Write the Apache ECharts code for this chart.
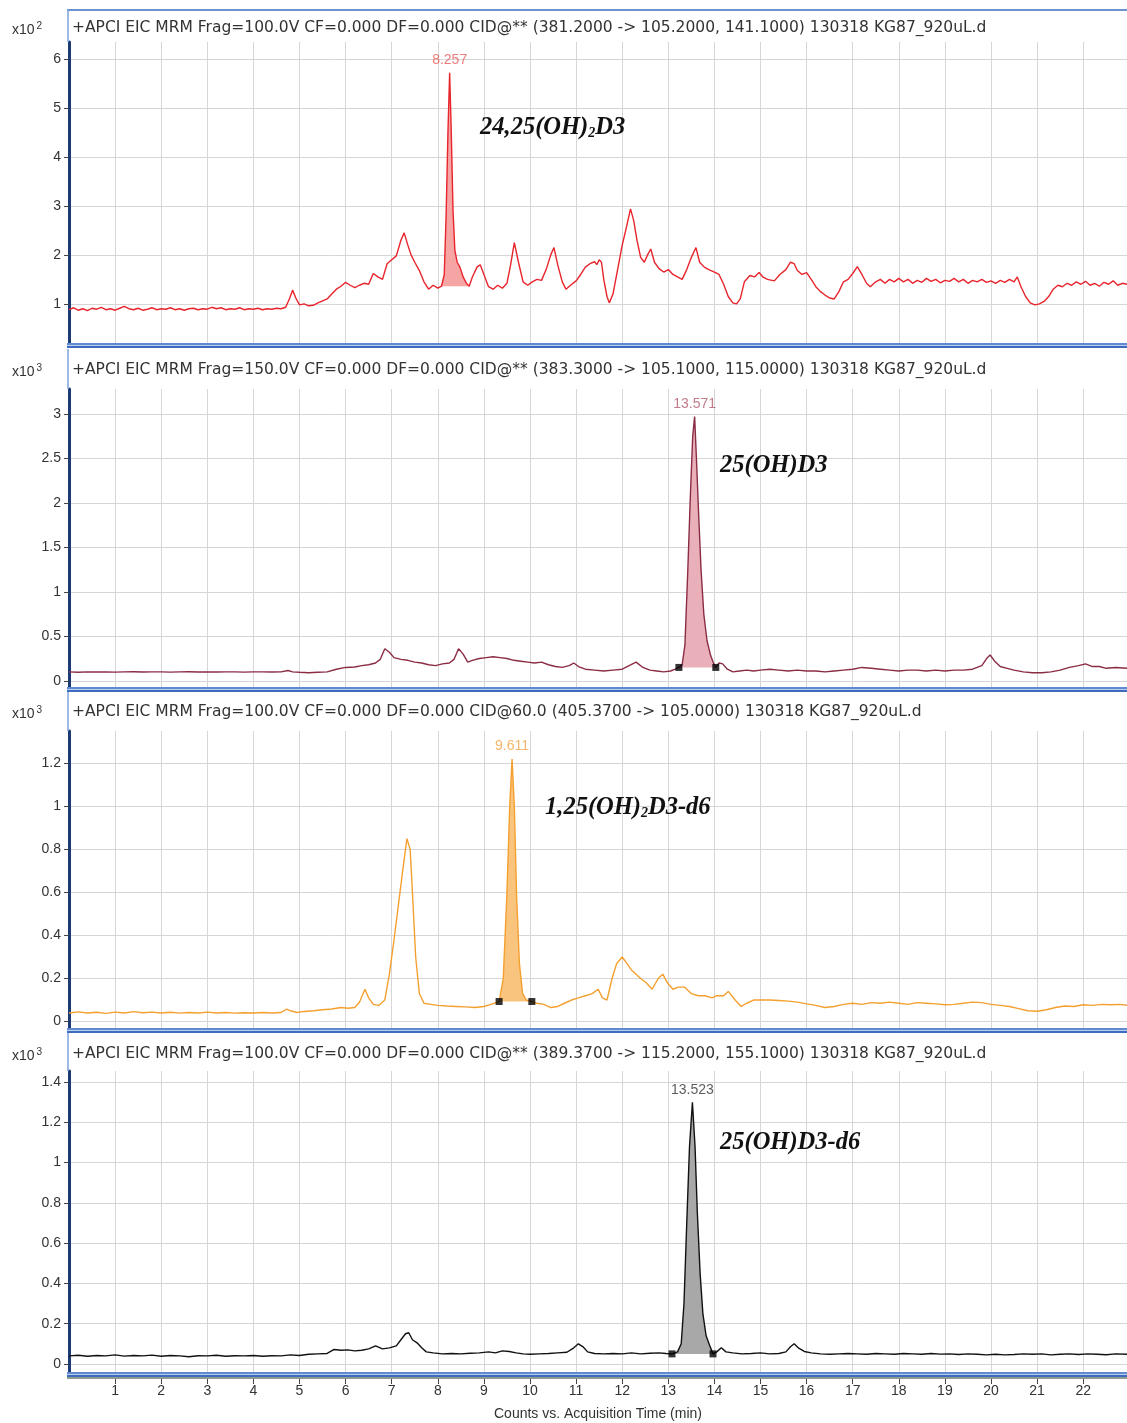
<!DOCTYPE html>
<html><head><meta charset="utf-8">
<script src="https://cdn.jsdelivr.net/npm/echarts@6/dist/echarts.min.js"></script>
<style>html,body{margin:0;padding:0;background:#fff}#c{width:1127px;height:1423px}</style>
</head><body><div id="c"></div><script>
// ---------------- DATA ----------------
const xTickValues = [1,2,3,4,5,6,7,8,9,10,11,12,13,14,15,16,17,18,19,20,21,22];
const xGridValues = [0,1,2,3,4,5,6,7,8,9,10,11,12,13,14,15,16,17,18,19,20,21,22];
const p1YTicks = [1,2,3,4,5,6];
const p2YTicks = [0,0.5,1,1.5,2,2.5,3];
const p3YTicks = [0,0.2,0.4,0.6,0.8,1,1.2];
const p4YTicks = [0,0.2,0.4,0.6,0.8,1,1.2,1.4];
const panelTitles = [
  '+APCI EIC MRM Frag=100.0V CF=0.000 DF=0.000 CID@** (381.2000 -> 105.2000, 141.1000) 130318 KG87_920uL.d',
  '+APCI EIC MRM Frag=150.0V CF=0.000 DF=0.000 CID@** (383.3000 -> 105.1000, 115.0000) 130318 KG87_920uL.d',
  '+APCI EIC MRM Frag=100.0V CF=0.000 DF=0.000 CID@60.0 (405.3700 -> 105.0000) 130318 KG87_920uL.d',
  '+APCI EIC MRM Frag=100.0V CF=0.000 DF=0.000 CID@** (389.3700 -> 115.2000, 155.1000) 130318 KG87_920uL.d'
];
const panelExponents = ['2','3','3','3'];
const xAxisTitle = 'Counts vs. Acquisition Time (min)';

// trace 1 (x10^2 counts): [time, counts]
const p1Trace = [
[0,0.88],[0.1,0.92],[0.2,0.87],[0.3,0.9],[0.4,0.86],[0.5,0.91],[0.6,0.89],[0.7,0.93],[0.8,0.88],[0.9,0.9],
[1.0,0.87],[1.1,0.91],[1.2,0.95],[1.3,0.9],[1.4,0.88],[1.5,0.91],[1.6,0.87],[1.7,0.89],[1.8,0.92],[1.9,0.88],
[2.0,0.9],[2.1,0.89],[2.2,0.92],[2.3,0.88],[2.4,0.9],[2.5,0.87],[2.6,0.9],[2.7,0.91],[2.8,0.88],[2.9,0.9],
[3.0,0.89],[3.1,0.93],[3.2,0.9],[3.3,0.92],[3.4,0.88],[3.5,0.9],[3.6,0.89],[3.7,0.92],[3.8,0.88],[3.9,0.9],
[4.0,0.89],[4.1,0.91],[4.2,0.88],[4.3,0.9],[4.4,0.89],[4.5,0.91],[4.6,0.9],[4.7,0.93],[4.78,1.1],[4.85,1.28],[4.92,1.12],
[5.0,0.98],[5.1,1.0],[5.2,0.96],[5.3,0.97],[5.4,1.02],[5.5,1.06],[5.6,1.1],[5.7,1.2],[5.8,1.3],[5.9,1.36],
[6.0,1.44],[6.1,1.38],[6.2,1.33],[6.3,1.38],[6.4,1.42],[6.5,1.4],[6.6,1.62],[6.7,1.55],[6.8,1.5],[6.9,1.82],
[7.0,1.9],[7.1,1.98],[7.2,2.3],[7.27,2.45],[7.35,2.2],[7.42,2.0],[7.5,1.85],[7.6,1.68],[7.7,1.45],[7.8,1.3],[7.9,1.38],
[8.0,1.32],[8.08,1.36],[8.14,1.6],[8.18,2.8],[8.22,4.5],[8.257,5.72],[8.29,4.6],[8.33,2.9],[8.37,2.1],[8.42,1.85],[8.48,1.75],[8.55,1.55],[8.62,1.42],[8.68,1.36],
[8.75,1.55],[8.85,1.75],[8.92,1.8],[9.0,1.6],[9.1,1.35],[9.2,1.3],[9.3,1.38],[9.4,1.32],[9.5,1.42],[9.58,1.8],[9.66,2.25],[9.75,1.85],[9.85,1.45],[9.95,1.38],
[10.05,1.45],[10.15,1.5],[10.25,1.48],[10.35,1.7],[10.45,2.0],[10.52,2.15],[10.6,1.8],[10.7,1.45],[10.78,1.3],[10.88,1.38],
[11.0,1.47],[11.1,1.6],[11.2,1.75],[11.3,1.82],[11.4,1.86],[11.45,1.8],[11.5,1.9],[11.55,1.85],[11.6,1.5],[11.67,1.15],[11.72,1.02],[11.8,1.2],[11.9,1.7],
[12.0,2.2],[12.1,2.6],[12.18,2.94],[12.25,2.7],[12.32,2.3],[12.4,1.95],[12.48,1.85],[12.55,2.0],[12.62,2.12],[12.7,1.85],[12.8,1.72],[12.9,1.65],
[13.0,1.7],[13.1,1.6],[13.2,1.55],[13.3,1.5],[13.4,1.7],[13.5,1.95],[13.6,2.15],[13.68,1.85],[13.78,1.75],[13.88,1.7],
[14.0,1.65],[14.1,1.6],[14.2,1.4],[14.3,1.15],[14.4,1.02],[14.48,1.0],[14.56,1.1],[14.65,1.45],[14.77,1.58],[14.87,1.55],[14.97,1.64],
[15.05,1.55],[15.15,1.5],[15.3,1.47],[15.42,1.6],[15.55,1.7],[15.65,1.85],[15.73,1.82],[15.8,1.68],[15.9,1.6],
[16.0,1.64],[16.1,1.5],[16.2,1.35],[16.3,1.25],[16.4,1.18],[16.5,1.12],[16.6,1.1],[16.7,1.25],[16.8,1.45],[16.9,1.5],
[17.0,1.62],[17.1,1.76],[17.2,1.6],[17.3,1.42],[17.38,1.35],[17.5,1.45],[17.6,1.5],[17.7,1.42],[17.8,1.5],[17.9,1.45],
[18.0,1.52],[18.1,1.45],[18.2,1.5],[18.3,1.42],[18.4,1.48],[18.5,1.44],[18.6,1.52],[18.7,1.46],[18.8,1.5],[18.9,1.43],
[19.0,1.48],[19.1,1.46],[19.2,1.52],[19.3,1.45],[19.4,1.5],[19.5,1.42],[19.6,1.48],[19.7,1.45],[19.8,1.5],[19.9,1.44],
[20.0,1.47],[20.1,1.42],[20.2,1.48],[20.3,1.44],[20.4,1.5],[20.5,1.45],[20.57,1.55],[20.65,1.35],[20.75,1.15],[20.85,1.02],[20.95,0.98],
[21.05,1.0],[21.15,1.05],[21.25,1.15],[21.35,1.3],[21.45,1.38],[21.55,1.35],[21.65,1.42],[21.75,1.38],[21.85,1.45],[21.95,1.4],
[22.05,1.46],[22.15,1.38],[22.25,1.42],[22.35,1.36],[22.45,1.44],[22.55,1.4],[22.65,1.47],[22.75,1.38],[22.85,1.42],[22.95,1.4]
];
const p1Apex = [8.257, 5.72];
const p1Integration = [[8.08,1.36],[8.68,1.36]];

// trace 2 (x10^3 counts)
const p2Trace = [
[0,0.1],[0.2,0.095],[0.4,0.1],[0.6,0.098],[0.8,0.1],[1.0,0.097],[1.2,0.1],[1.4,0.102],[1.6,0.098],[1.8,0.1],
[2.0,0.1],[2.2,0.097],[2.4,0.1],[2.6,0.102],[2.8,0.099],[3.0,0.1],[3.2,0.098],[3.4,0.1],[3.6,0.1],[3.8,0.097],
[4.0,0.1],[4.2,0.1],[4.4,0.098],[4.6,0.1],[4.75,0.115],[4.85,0.1],[5.0,0.095],[5.2,0.09],[5.4,0.095],[5.6,0.1],
[5.8,0.13],[6.0,0.15],[6.2,0.155],[6.35,0.17],[6.5,0.18],[6.65,0.2],[6.75,0.24],[6.85,0.36],[6.95,0.32],
[7.05,0.26],[7.2,0.24],[7.35,0.23],[7.5,0.21],[7.65,0.2],[7.8,0.18],[7.95,0.17],[8.1,0.19],[8.25,0.2],[8.35,0.24],
[8.45,0.36],[8.55,0.3],[8.65,0.21],[8.75,0.23],[8.9,0.25],[9.05,0.26],[9.2,0.27],[9.35,0.26],[9.5,0.25],[9.65,0.23],
[9.8,0.22],[9.95,0.21],[10.1,0.2],[10.25,0.21],[10.4,0.18],[10.55,0.16],[10.7,0.15],[10.85,0.17],[10.95,0.2],
[11.05,0.16],[11.2,0.13],[11.4,0.12],[11.6,0.11],[11.8,0.12],[12.0,0.13],[12.15,0.17],[12.3,0.21],[12.45,0.15],
[12.6,0.12],[12.75,0.11],[12.9,0.1],[13.05,0.11],[13.15,0.13],[13.23,0.15],[13.3,0.18],[13.36,0.4],[13.42,1.2],
[13.48,2.1],[13.53,2.75],[13.571,2.97],[13.61,2.5],[13.66,1.85],[13.71,1.25],[13.77,0.75],[13.84,0.45],[13.92,0.28],
[13.98,0.2],[14.03,0.15],[14.1,0.2],[14.18,0.19],[14.28,0.13],[14.4,0.1],[14.55,0.11],[14.7,0.12],[14.85,0.11],
[15.0,0.12],[15.2,0.13],[15.4,0.12],[15.6,0.11],[15.8,0.12],[16.0,0.11],[16.2,0.11],[16.4,0.1],[16.6,0.11],[16.8,0.12],
[17.0,0.13],[17.2,0.15],[17.4,0.14],[17.6,0.13],[17.8,0.12],[18.0,0.11],[18.2,0.12],[18.4,0.12],[18.6,0.11],[18.8,0.12],
[19.0,0.11],[19.2,0.12],[19.4,0.12],[19.6,0.13],[19.8,0.17],[19.92,0.26],[19.98,0.29],[20.08,0.22],[20.2,0.16],
[20.35,0.14],[20.5,0.12],[20.7,0.1],[20.9,0.09],[21.1,0.09],[21.3,0.1],[21.5,0.12],[21.7,0.15],[21.9,0.17],
[22.05,0.19],[22.2,0.16],[22.35,0.16],[22.5,0.14],[22.7,0.15],[22.95,0.14]
];
const p2Apex = [13.571, 2.97];
const p2Integration = [[13.23,0.15],[14.03,0.15]];

// trace 3 (x10^3 counts)
const p3Trace = [
[0,0.04],[0.2,0.045],[0.4,0.04],[0.6,0.043],[0.8,0.038],[1.0,0.044],[1.2,0.04],[1.4,0.046],[1.6,0.041],[1.8,0.044],
[2.0,0.04],[2.2,0.043],[2.4,0.039],[2.6,0.042],[2.8,0.04],[3.0,0.044],[3.2,0.04],[3.4,0.042],[3.6,0.039],[3.8,0.041],
[4.0,0.04],[4.2,0.042],[4.4,0.04],[4.6,0.042],[4.72,0.058],[4.8,0.05],[4.95,0.042],[5.1,0.047],[5.3,0.05],[5.5,0.055],
[5.7,0.058],[5.9,0.065],[6.05,0.062],[6.2,0.065],[6.3,0.09],[6.42,0.15],[6.5,0.11],[6.6,0.08],[6.72,0.075],[6.85,0.1],
[6.95,0.22],[7.05,0.38],[7.15,0.55],[7.25,0.72],[7.33,0.85],[7.4,0.8],[7.45,0.6],[7.52,0.3],[7.6,0.13],[7.7,0.085],
[7.85,0.08],[8.0,0.075],[8.2,0.072],[8.4,0.07],[8.6,0.068],[8.8,0.065],[9.0,0.07],[9.15,0.08],[9.33,0.093],[9.42,0.2],
[9.5,0.6],[9.56,1.0],[9.611,1.22],[9.66,1.0],[9.71,0.58],[9.77,0.27],[9.84,0.13],[9.92,0.1],[10.04,0.093],[10.15,0.085],
[10.3,0.08],[10.45,0.065],[10.6,0.07],[10.75,0.085],[10.9,0.1],[11.05,0.11],[11.2,0.12],[11.35,0.13],[11.48,0.15],
[11.57,0.11],[11.67,0.1],[11.78,0.2],[11.88,0.27],[12.0,0.3],[12.1,0.27],[12.2,0.24],[12.3,0.22],[12.4,0.2],[12.52,0.18],
[12.65,0.15],[12.78,0.2],[12.88,0.22],[12.98,0.18],[13.1,0.15],[13.22,0.16],[13.35,0.16],[13.5,0.13],[13.65,0.12],
[13.8,0.12],[13.95,0.11],[14.05,0.12],[14.2,0.12],[14.3,0.14],[14.45,0.1],[14.58,0.07],[14.7,0.085],[14.85,0.1],
[15.0,0.1],[15.2,0.1],[15.4,0.098],[15.6,0.095],[15.8,0.09],[16.0,0.082],[16.2,0.075],[16.4,0.065],[16.6,0.07],[16.8,0.08],
[17.0,0.085],[17.2,0.08],[17.4,0.088],[17.6,0.085],[17.8,0.09],[18.0,0.085],[18.2,0.08],[18.4,0.088],[18.6,0.085],[18.8,0.082],
[19.0,0.078],[19.2,0.08],[19.4,0.085],[19.6,0.09],[19.8,0.088],[20.0,0.08],[20.2,0.075],[20.4,0.07],[20.6,0.06],[20.8,0.05],
[21.0,0.048],[21.2,0.055],[21.4,0.065],[21.6,0.072],[21.8,0.07],[22.0,0.078],[22.2,0.075],[22.4,0.08],[22.6,0.078],[22.8,0.08],[22.95,0.076]
];
const p3Apex = [9.611, 1.22];
const p3Integration = [[9.33,0.093],[10.04,0.093]];

// trace 4 (x10^3 counts)
const p4Trace = [
[0,0.04],[0.2,0.043],[0.4,0.038],[0.6,0.042],[0.8,0.04],[1.0,0.045],[1.2,0.039],[1.4,0.042],[1.6,0.04],[1.8,0.044],
[2.0,0.038],[2.2,0.042],[2.4,0.04],[2.6,0.036],[2.8,0.041],[3.0,0.04],[3.2,0.043],[3.4,0.038],[3.6,0.041],[3.8,0.04],
[4.0,0.042],[4.2,0.038],[4.4,0.041],[4.6,0.04],[4.8,0.045],[5.0,0.042],[5.2,0.048],[5.4,0.05],[5.6,0.052],[5.75,0.072],
[5.9,0.068],[6.05,0.07],[6.2,0.065],[6.35,0.068],[6.5,0.075],[6.65,0.09],[6.8,0.075],[6.95,0.08],[7.1,0.09],[7.2,0.12],
[7.3,0.15],[7.37,0.155],[7.45,0.12],[7.55,0.105],[7.65,0.08],[7.75,0.06],[7.9,0.055],[8.1,0.05],[8.3,0.052],[8.5,0.05],
[8.7,0.053],[8.9,0.055],[9.1,0.06],[9.25,0.055],[9.4,0.065],[9.55,0.062],[9.7,0.055],[9.85,0.05],[10.0,0.048],[10.2,0.05],
[10.4,0.052],[10.6,0.055],[10.8,0.058],[10.95,0.08],[11.05,0.1],[11.15,0.085],[11.25,0.06],[11.4,0.052],[11.6,0.05],
[11.8,0.052],[12.0,0.05],[12.2,0.055],[12.4,0.05],[12.6,0.053],[12.8,0.055],[12.95,0.052],[13.08,0.05],[13.2,0.06],
[13.28,0.1],[13.34,0.3],[13.4,0.7],[13.46,1.08],[13.523,1.3],[13.58,1.08],[13.63,0.75],[13.69,0.45],[13.75,0.25],
[13.82,0.14],[13.9,0.09],[13.97,0.05],[14.05,0.06],[14.15,0.08],[14.25,0.06],[14.4,0.055],[14.6,0.05],[14.8,0.052],
[15.0,0.055],[15.2,0.05],[15.4,0.052],[15.55,0.06],[15.65,0.085],[15.73,0.1],[15.82,0.08],[15.95,0.062],[16.1,0.055],
[16.3,0.05],[16.5,0.048],[16.7,0.05],[16.9,0.052],[17.1,0.05],[17.3,0.048],[17.5,0.052],[17.7,0.05],[17.9,0.048],
[18.1,0.052],[18.3,0.05],[18.5,0.048],[18.7,0.052],[18.9,0.049],[19.1,0.05],[19.3,0.047],[19.5,0.05],[19.7,0.048],
[19.9,0.045],[20.1,0.048],[20.3,0.045],[20.5,0.047],[20.7,0.05],[20.9,0.048],[21.1,0.05],[21.3,0.045],[21.5,0.048],
[21.7,0.05],[21.9,0.047],[22.1,0.05],[22.3,0.048],[22.5,0.046],[22.7,0.05],[22.95,0.048]
];
const p4Apex = [13.523, 1.30];
const p4Integration = [[13.08,0.05],[13.97,0.05]];

// ---------------- LAYOUT / STYLE ----------------
const W = 1127;
const PLOT_LEFT = 69;
const layout = [
  {frameTop: 10, titleY: 28, top: 42, bottom: 343, min: 0.2, max: 6.35},
  {frameTop: 349, titleY: 370, top: 389, bottom: 687, min: -0.07, max: 3.28},
  {frameTop: 692, titleY: 712, top: 731, bottom: 1028, min: -0.03, max: 1.35},
  {frameTop: 1033, titleY: 1054, top: 1071, bottom: 1372, min: -0.04, max: 1.455}
];
const traces = [p1Trace, p2Trace, p3Trace, p4Trace];
const apexes = [p1Apex, p2Apex, p3Apex, p4Apex];
const integrations = [p1Integration, p2Integration, p3Integration, p4Integration];
const yTicks = [p1YTicks, p2YTicks, p3YTicks, p4YTicks];
const showMarkers = [false, true, true, true];
const lineColors = ['#e8242c', '#8a2c44', '#f4a030', '#111111'];
const fillColors = ['#f6a5a5', '#e9b0ba', '#f9c47e', '#a8a8a8'];
const apexColors = ['#e85a5a', '#b25a6c', '#f2a443', '#333333'];
const FONT = '"Liberation Sans", Arial, sans-serif';
const TITLE_FONT = '"DejaVu Sans", Verdana, sans-serif';

const grids = [], xAxes = [], yAxes = [], series = [];
layout.forEach((L, i) => {
  grids.push({left: PLOT_LEFT, width: W - PLOT_LEFT, top: L.top, height: L.bottom - L.top, containLabel: false});
  const isLast = i === layout.length - 1;
  xAxes.push({
    type: 'value', gridIndex: i, min: 0, max: 22.95,
    axisLine: {show: false, onZero: false},
    axisTick: {show: isLast, customValues: isLast ? xTickValues : xGridValues, length: 12, lineStyle: {color: '#444'}},
    axisLabel: {show: isLast, customValues: xTickValues, margin: 12, fontSize: 14, color: '#333', fontFamily: FONT},
    splitLine: {show: true, lineStyle: {color: '#d6d6d6', width: 1}},
    name: isLast ? xAxisTitle : '', nameLocation: 'middle', nameGap: 35,
    nameTextStyle: {fontSize: 14, color: '#333', fontFamily: FONT}
  });
  yAxes.push({
    type: 'value', gridIndex: i, min: L.min, max: L.max,
    axisLine: {show: true, onZero: false, lineStyle: {color: '#1c3b74', width: 3}},
    axisTick: {show: true, customValues: yTicks[i], length: 5, lineStyle: {color: '#444'}},
    axisLabel: {customValues: yTicks[i], fontSize: 14, color: '#333', margin: 8, fontFamily: FONT},
    splitLine: {show: true, lineStyle: {color: '#d6d6d6', width: 1}}
  });
  const tr = traces[i], integ = integrations[i];
  series.push({
    type: 'custom', xAxisIndex: i, yAxisIndex: i, silent: true, z: 1,
    data: [[integ[0][0], integ[0][1]]],
    renderItem: function (params, api) {
      const pts = [api.coord(integ[0])];
      tr.forEach(p => { if (p[0] > integ[0][0] && p[0] < integ[1][0]) pts.push(api.coord(p)); });
      pts.push(api.coord(integ[1]));
      return {type: 'polygon', shape: {points: pts}, style: {fill: fillColors[i]}};
    }
  });
  series.push({
    type: 'line', xAxisIndex: i, yAxisIndex: i, data: tr, showSymbol: false, symbol: 'none',
    lineStyle: {color: lineColors[i], width: 1.4}, z: 3, silent: true
  });
  series.push({
    type: 'scatter', xAxisIndex: i, yAxisIndex: i, data: [apexes[i]], symbolSize: 1,
    itemStyle: {color: 'rgba(0,0,0,0)'}, z: 4, silent: true,
    label: {show: true, position: 'top', distance: 5, fontSize: 14, color: apexColors[i], fontFamily: FONT,
      formatter: p => p.value[0].toFixed(3)}
  });
  if (showMarkers[i]) {
    series.push({
      type: 'scatter', xAxisIndex: i, yAxisIndex: i, data: integ, symbol: 'rect', symbolSize: 7,
      itemStyle: {color: '#000'}, z: 5, silent: true
    });
  }
});

// frames, title rows, annotations
const graphics = [];
graphics.push({type: 'rect', shape: {x: 67, y: 9, width: W - 67, height: 2}, style: {fill: '#6d93d2'}, z: 100});
layout.forEach((L, i) => {
  graphics.push({type: 'line', shape: {x1: 68, y1: L.frameTop, x2: 68, y2: L.top}, style: {stroke: '#7ea2da', lineWidth: 1.5}, z: 100});
  graphics.push({type: 'rect', shape: {x: 67, y: L.bottom, width: W - 67, height: 2}, style: {fill: '#5f8bd2'}, z: 100});
  graphics.push({type: 'rect', shape: {x: 67, y: L.bottom + 2, width: W - 67, height: 1}, style: {fill: '#b9cdee'}, z: 100});
  graphics.push({type: 'rect', shape: {x: 67, y: L.bottom + 3, width: W - 67, height: 2}, style: {fill: '#3d6bbf'}, z: 100});
  graphics.push({type: 'text', x: 72, y: L.titleY, z: 100,
    style: {text: panelTitles[i], fontSize: 15.5, fill: '#333', fontFamily: TITLE_FONT, verticalAlign: 'middle'}});
  graphics.push({type: 'text', x: 12, y: L.titleY + 2, z: 100,
    style: {text: '{a|x10}{b|' + panelExponents[i] + '}', verticalAlign: 'middle',
      rich: {a: {fontSize: 14, fill: '#333', fontFamily: FONT, lineHeight: 18},
             b: {fontSize: 10, fill: '#333', fontFamily: FONT, verticalAlign: 'top', padding: [0, 0, 0, 2], lineHeight: 18}}}});
});
graphics.push({type: 'rect', shape: {x: 67, y: 1377, width: W - 67, height: 2}, style: {fill: '#8f9c8f'}, z: 100});

const SERIF = '"Liberation Serif", "Times New Roman", serif';
const nameRich = {
  a: {fontSize: 24.5, fontWeight: 'bold', fontStyle: 'italic', fontFamily: SERIF, fill: '#111', lineHeight: 28, verticalAlign: 'bottom'},
  s: {fontSize: 14, fontWeight: 'bold', fontStyle: 'italic', fontFamily: SERIF, fill: '#111', lineHeight: 28, verticalAlign: 'bottom'}
};
const compoundLabels = [
  {text: '{a|24,25(OH)}{s|2}{a|D3}', x: 480, y: 126},
  {text: '{a|25(OH)D3}', x: 720, y: 464},
  {text: '{a|1,25(OH)}{s|2}{a|D3-d6}', x: 545, y: 806},
  {text: '{a|25(OH)D3-d6}', x: 720, y: 1141}
];
compoundLabels.forEach(c => graphics.push({type: 'text', x: c.x, y: c.y, z: 100,
  style: {text: c.text, rich: nameRich, verticalAlign: 'middle'}}));

const chart = echarts.init(document.getElementById('c'), null, {renderer: 'canvas'});
chart.setOption({
  animation: false,
  backgroundColor: '#fff',
  grid: grids, xAxis: xAxes, yAxis: yAxes, series: series, graphic: graphics
});
</script></body></html>
